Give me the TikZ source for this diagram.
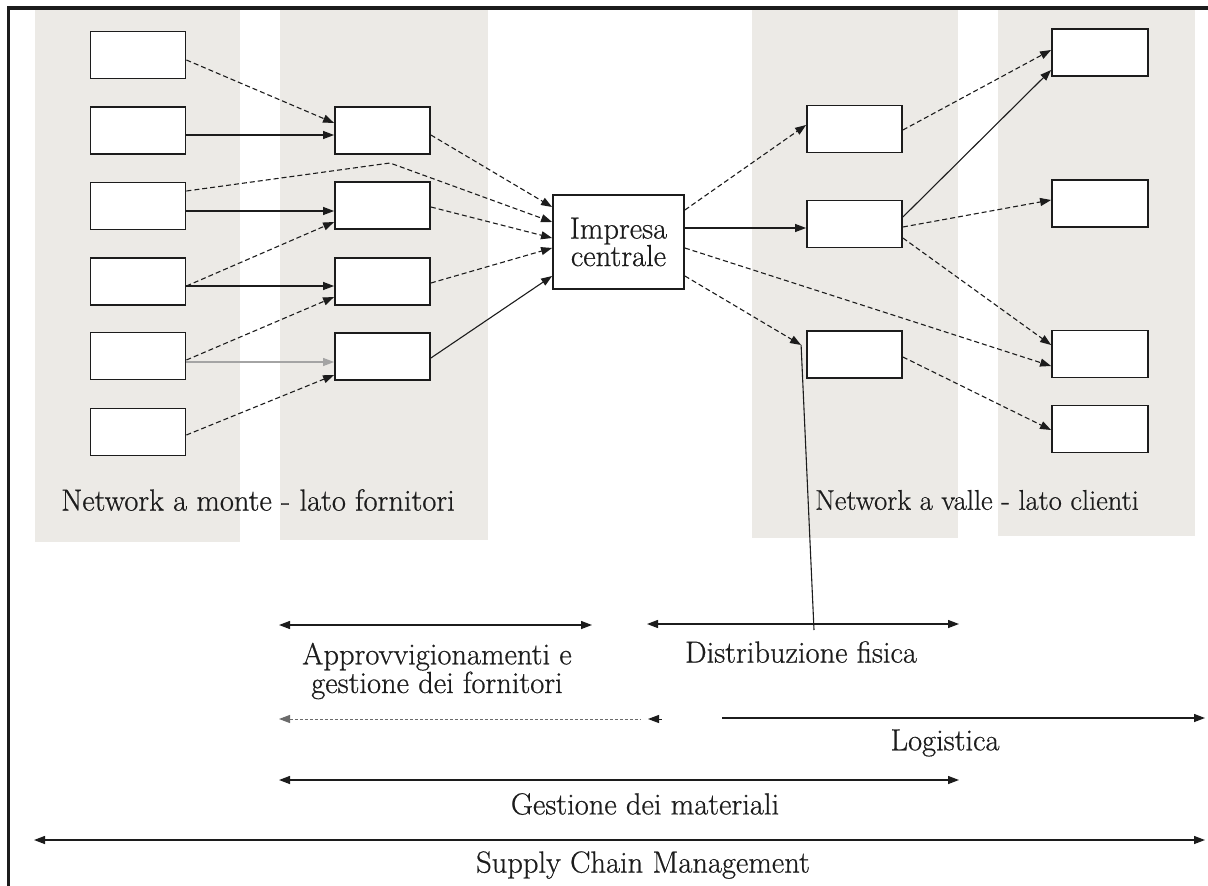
\documentclass[tikz,border=0pt]{standalone}
\usepackage{fontspec}
\usetikzlibrary{arrows.meta,calc}
\newfontfamily\printfont{Latin Modern Roman}[FakeBold=0.6]
\definecolor{scan}{RGB}{236,234,230}
\definecolor{ink}{RGB}{28,28,28}
\tikzset{
  box/.style={draw=ink, line width=1.8pt, fill=white, minimum width=95pt, minimum height=47pt, inner sep=0pt},
  tip/.tip={Triangle[length=11pt,width=8pt]},
  link/.style={draw=ink, line width=1.1pt, -tip},
  dlink/.style={link, dash pattern=on 5pt off 3pt},
  span/.style={draw=ink, line width=1.3pt, tip-tip},
  lbl/.style={font=\printfont\fontsize{30.5}{27.5}\selectfont, text=ink, inner sep=0pt, align=center},
}
\begin{document}
\begin{tikzpicture}[x=1pt,y=-1pt]
\useasboundingbox (0,0) rectangle (1208,886);
\fill[white] (0,0) rectangle (1208,886);
% printed columns showing through the page
\fill[scan] (35,10) rectangle (240,542);
\fill[scan] (280,10) rectangle (488,540);
\fill[scan] (752,10) rectangle (958,538);
\fill[scan] (998,10) rectangle (1195,536);
% frame
\draw[line width=3.5pt, ink] (8.5,886) -- (8.5,8) -- (1208,8);

% upstream suppliers, first tier
\node[box] (L1) at (138,55) {};
\node[box] (L2) at (138,130.5) {};
\node[box] (L3) at (138,206) {};
\node[box] (L4) at (138,281.5) {};
\node[box] (L5) at (138,356) {};
\node[box] (L6) at (138,432) {};
% upstream suppliers, second tier
\node[box] (M1) at (382.5,130.5) {};
\node[box] (M2) at (382.5,205.5) {};
\node[box] (M3) at (382.5,281.5) {};
\node[box] (M4) at (382.5,356.5) {};
% focal company
\node[box, minimum width=131pt, minimum height=94pt, lbl] (C) at (618.5,242) {Impresa\\centrale};
% downstream customers
\node[box] (R1) at (854.5,129) {};
\node[box] (R2) at (854.5,224) {};
\node[box] (R3) at (854.5,354.5) {};
\node[box, minimum width=96pt] (F1) at (1100,52.5) {};
\node[box, minimum width=96pt] (F2) at (1100,203.5) {};
\node[box, minimum width=96pt] (F3) at (1100,354) {};
\node[box, minimum width=96pt] (F4) at (1100,429) {};

% upstream flows
\draw[dlink] ([yshift=-5pt]L1.east) -- ([yshift=7.5pt]M1.west);
\draw[link]  ([yshift=-4.5pt]L2.east) -- ([yshift=-4.5pt]M1.west);
\coordinate (bend) at (390,163);
\draw[dlink] ([yshift=15pt]L3.east) -- (bend) -- ([yshift=20pt]C.west);
\draw[link]  ([yshift=-5pt]L3.east) -- ([yshift=-5.5pt]M2.west);
\draw[dlink] ([yshift=-4.5pt]L4.east) -- ([yshift=-16.5pt]M2.west);
\draw[link]  ([yshift=-4.5pt]L4.east) -- ([yshift=-4.5pt]M3.west);
\draw[dlink] ([yshift=-4pt]L5.east) -- ([yshift=-15.5pt]M3.west);
\draw[link, draw=ink!40]  ([yshift=-6pt]L5.east) -- ([yshift=-5.5pt]M4.west);
\draw[dlink] ([yshift=-3pt]L6.east) -- ([yshift=-18.5pt]M4.west);

\draw[dlink] ([yshift=-4.5pt]M1.east) -- ([yshift=35pt]C.west);
\draw[dlink] ([yshift=-1.5pt]M2.east) -- ([yshift=4pt]C.west);
\draw[dlink] ([yshift=-1.5pt]M3.east) -- ([yshift=-6pt]C.west);
\draw[link]  ([yshift=-1.5pt]M4.east) -- ([yshift=-34pt]C.west);

% downstream flows
\draw[dlink] ([yshift=32pt]C.east) -- ([yshift=4pt]R1.west);
\draw[link]  ([yshift=14pt]C.east) -- ([yshift=-4pt]R2.west);
\draw[dlink] ([yshift=-6pt]C.east) -- ([yshift=-12pt]F3.west);
\coordinate (r3in) at ([xshift=-5pt,yshift=9.5pt]R3.west);
\draw[dlink] ([yshift=-34pt]C.east) -- (r3in);

\draw[dlink] ([yshift=-1pt]R1.east) -- ([yshift=2.5pt]F1.west);
\draw[link]  ([yshift=7pt]R2.east) -- ([yshift=-17.5pt]F1.west);
\draw[dlink] ([yshift=-3pt]R2.east) -- ([yshift=3.5pt]F2.west);
\draw[dlink] ([yshift=-14pt]R2.east) -- ([yshift=9pt]F3.west);
\draw[dlink] ([yshift=-2.5pt]R3.east) -- ([yshift=-1pt]F4.west);

% network captions
\node[lbl] (netL) at (258,500) {Network a monte - lato fornitori};
\node[lbl, font=\printfont\fontsize{28.5}{27.5}\selectfont] (netR) at (977,500) {Network a valle - lato clienti};

% scope of the management areas
\coordinate (a1) at (279,625); \coordinate (a2) at (592,625);
\draw[span] (a1) -- (a2);
\node[lbl] (tA) at (437,671) {Approvvigionamenti e\\gestione dei fornitori};

\coordinate (d1) at (647,624); \coordinate (d2) at (959,624);
\draw[span] (d1) -- (d2);
\node[lbl] (tD) at (801,652) {Distribuzione fisica};
\coordinate (dv) at (814,630);
\draw[ink, line width=1.1pt] (dv) -- (r3in);

\coordinate (g1) at (279,719); \coordinate (gm) at (640,719);
\coordinate (gh) at (648,719); \coordinate (gk) at (662,719);
\coordinate (g2) at (722,718); \coordinate (g3) at (1205,718);
\draw[ink!65, line width=1pt, dash pattern=on 3pt off 2pt, tip-] (g1) -- (gm);
\draw[ink, line width=1pt, tip-] (gh) -- (gk);
\draw[ink, line width=1.3pt, -tip] (g2) -- (g3);
\node[lbl] (tL) at (945,743) {Logistica};

\coordinate (m1) at (279,780); \coordinate (m2) at (959,780);
\draw[span] (m1) -- (m2);
\node[lbl] (tM) at (645,804) {Gestione dei materiali};

\coordinate (s1) at (34,840); \coordinate (s2) at (1205,840);
\draw[span] (s1) -- (s2);
\node[lbl] (tS) at (643,865) {Supply Chain Management};
\end{tikzpicture}
\end{document}
